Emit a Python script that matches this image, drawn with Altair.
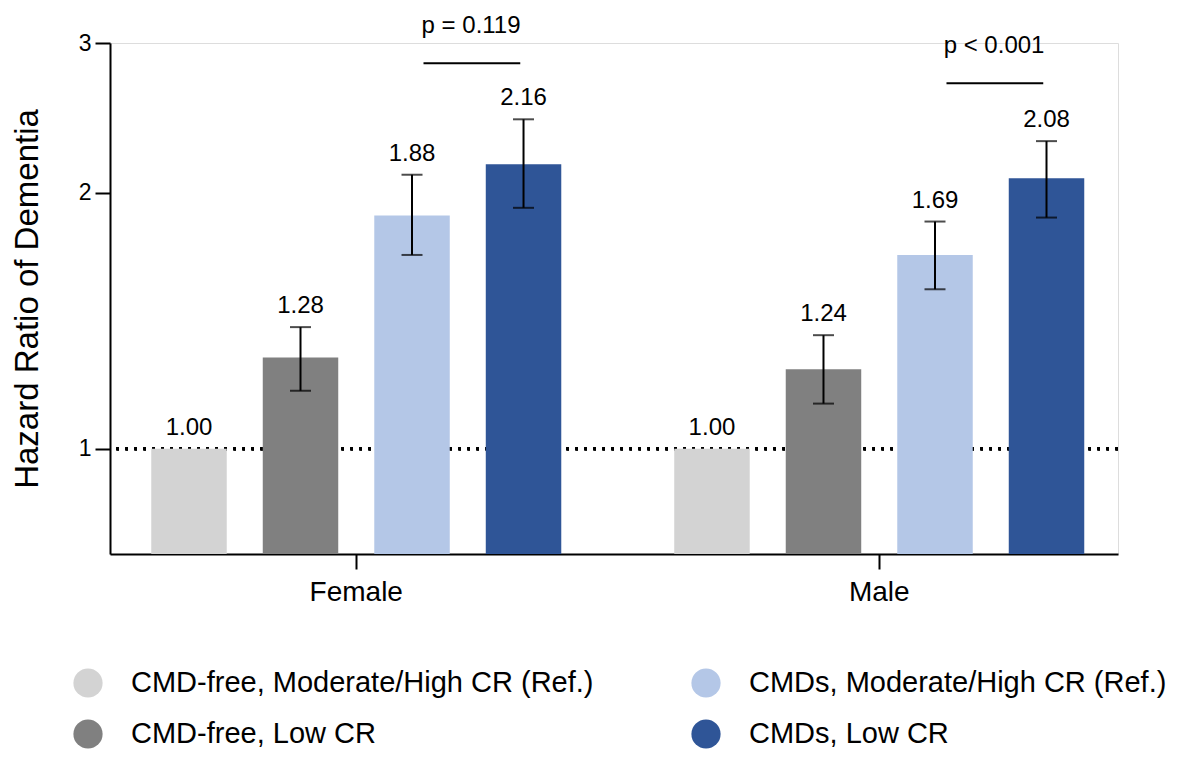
import altair as alt
import pandas as pd

# ---- data ----
groups = ["Female", "Male"]
categories = [
    "CMD-free, Moderate/High CR (Ref.)",
    "CMD-free, Low CR",
    "CMDs, Moderate/High CR (Ref.)",
    "CMDs, Low CR",
]
colors = ["#d3d3d3", "#808080", "#b4c7e7", "#2f5597"]

hr_female = [1.00, 1.28, 1.88, 2.16]
lo_female = [None, 1.17, 1.69, 1.92]
hi_female = [None, 1.39, 2.10, 2.44]

hr_male = [1.00, 1.24, 1.69, 2.08]
lo_male = [None, 1.13, 1.54, 1.87]
hi_male = [None, 1.36, 1.85, 2.30]

p_texts = ["p = 0.119", "p < 0.001"]
p_levels = [2.84, 2.69]

y_ticks = [1, 2, 3]
Y_MIN, Y_MAX = 0.752, 3.0

rows = []
for g, hrs, los, his in zip(groups, [hr_female, hr_male], [lo_female, lo_male], [hi_female, hi_male]):
    for c, h, l, u in zip(categories, hrs, los, his):
        rows.append({"group": g, "cat": c, "hr": h, "lo": l, "hi": u,
                     "top": u if u is not None else h})
df = pd.DataFrame(rows)
pdf = pd.DataFrame({"group": groups, "p": p_texts, "py": p_levels})

FONT = "Liberation Sans"

x_scale = alt.Scale(domain=groups, paddingInner=0.216, paddingOuter=0.0717, align=0.55)
x_axis = alt.Axis(labelAngle=0, labelFontSize=28, labelColor="black", labelPadding=9,
                  domainColor="black", domainWidth=2, tickColor="black", tickWidth=2,
                  tickSize=15, title=None)
x_enc = alt.X("group:N", scale=x_scale, axis=x_axis, title=None)
xoff = alt.XOffset("cat:N", scale=alt.Scale(domain=categories, paddingInner=0.323, paddingOuter=0))
y_scale = alt.Scale(type="log", domain=[Y_MIN, Y_MAX], nice=False)
y_axis = alt.Axis(values=y_ticks, format="d", grid=False, labelFontSize=23, labelColor="black",
                  labelPadding=4, domainColor="black", domainWidth=2, tickColor="black",
                  tickWidth=2, tickSize=15, title="Hazard Ratio of Dementia",
                  titleFontSize=33, titleFontWeight="normal", titleColor="black",
                  titlePadding=34)

base = alt.Chart(df)

ref_line = alt.Chart(df).mark_rule(color="black", strokeWidth=3, strokeDash=[2.5, 6.5]).encode(
    y=alt.datum(1)
)

bars = base.mark_bar().encode(
    x=x_enc,
    xOffset=xoff,
    y=alt.Y("hr:Q", scale=y_scale, axis=y_axis),
    y2=alt.datum(Y_MIN),
    color=alt.Color(
        "cat:N",
        scale=alt.Scale(domain=categories, range=colors),
        legend=alt.Legend(title=None, orient="none", legendX=-37, legendY=625, columns=2,
                          symbolType="circle", symbolSize=855, symbolStrokeWidth=0,
                          symbolOpacity=1, labelFontSize=29, labelColor="black",
                          labelOffset=28, columnPadding=97, rowPadding=21,
                          labelLimit=1000, padding=0),
    ),
)

ci = base.transform_filter("datum.lo != null")
err = ci.mark_rule(color="black", strokeWidth=2).encode(
    x=x_enc, xOffset=xoff, y=alt.Y("lo:Q"), y2="hi:Q"
)
cap_lo = ci.mark_tick(color="black", thickness=2, size=21, orient="horizontal").encode(
    x=x_enc, xOffset=xoff, y="lo:Q"
)
cap_hi = ci.mark_tick(color="black", thickness=2, size=21, orient="horizontal").encode(
    x=x_enc, xOffset=xoff, y="hi:Q"
)
labels = base.mark_text(fontSize=24, dy=-14, baseline="alphabetic", color="black").encode(
    x=x_enc, xOffset=xoff, y="top:Q", text=alt.Text("hr:Q", format=".2f")
)

p_line = alt.Chart(pdf).mark_rule(color="black", strokeWidth=2).encode(
    x=alt.X("group:N", scale=x_scale, axis=x_axis, bandPosition=0.664),
    x2=alt.X2("group", bandPosition=0.9),
    y="py:Q",
)
p_text = alt.Chart(pdf).mark_text(fontSize=24, dy=-30, baseline="alphabetic", color="black").encode(
    x=alt.X("group:N", scale=x_scale, axis=x_axis, bandPosition=0.78),
    y="py:Q",
    text="p:N",
)

chart = (
    alt.layer(ref_line, bars, err, cap_lo, cap_hi, labels, p_line, p_text)
    .properties(
        width=1008,
        height=511,
        autosize=alt.AutoSizeParams(type="none"),
        padding={"left": 102, "top": 35, "right": 60, "bottom": 197},
        background="white",
    )
    .configure_view(stroke=None)
    .configure(font=FONT)
)

chart.save("out.html", embed_options={"renderer": "svg", "actions": False})
